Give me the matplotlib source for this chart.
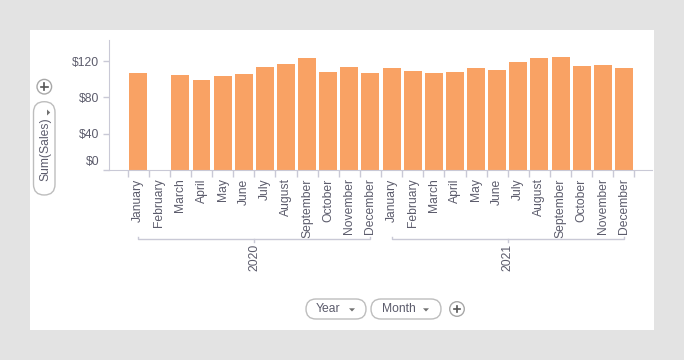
import numpy as np
import matplotlib.pyplot as plt
from matplotlib.patches import FancyBboxPatch, Circle, Rectangle, Polygon
from matplotlib.transforms import blended_transform_factory, ScaledTranslation

plt.rcParams['font.family'] = ['Liberation Sans', 'DejaVu Sans']

# data
months = ['January', 'February', 'March', 'April', 'May', 'June', 'July',
          'August', 'September', 'October', 'November', 'December']
years = ['2020', '2021']
sales_2020 = [107, np.nan, 104.7, 99.2, 103.6, 105.8, 113.6, 116.9, 123.5, 108, 113.6, 107]
sales_2021 = [112.5, 109, 107, 108, 112.5, 110, 119, 123.5, 124.6, 114.7, 115.8, 112.5]
y_ticks = [0, 40, 80, 120]

text_col = '#5c5c6c'
line_col = '#c9c9d6'
bar_col = '#f9a264'
pill_col = '#bdbdbd'

W, H = 684, 360
fig = plt.figure(figsize=(W / 100, H / 100), dpi=100)
fig.patch.set_facecolor('#e3e3e3')

# pixel overlay for panel and widgets
bg = fig.add_axes([0, 0, 1, 1], zorder=0)
bg.set_xlim(0, W)
bg.set_ylim(H, 0)
bg.axis('off')
bg.add_patch(Rectangle((30, 30), 624, 300, color='white', lw=0))


def px(l, t, r, b):
    return [l / W, 1 - b / H, (r - l) / W, (b - t) / H]


ax = fig.add_axes(px(109, 40, 652, 170), zorder=1)
ax.patch.set_alpha(0)

values = sales_2020 + sales_2021
labels = months * len(years)
x = np.arange(len(values))
ax.bar(x, values, width=0.85, color=bar_col)
ax.set_xlim(-1.38, 24.33)
ax.set_ylim(0, 143.3)

ax.set_yticks(y_ticks, [f'${v}' for v in y_ticks])
ax.set_xticks(x, labels, rotation=90)
ax.set_xticks(np.arange(-0.5, len(values)), minor=True)
ax.tick_params(axis='x', which='major', length=0, pad=6, labelsize=8.7, labelcolor=text_col)
ax.tick_params(axis='x', which='minor', length=5, color=line_col, width=1)
ax.tick_params(axis='y', length=4, color=line_col, width=1, pad=3, labelsize=8.7, labelcolor=text_col)
for s in ['top', 'right']:
    ax.spines[s].set_visible(False)
for s in ['left', 'bottom']:
    ax.spines[s].set_color(line_col)

# lift the $0 label off the baseline like the original
lab0 = ax.get_yticklabels()[0]
lab0.set_transform(lab0.get_transform() + ScaledTranslation(0, 0.093, fig.dpi_scale_trans))

# year brackets
trans = blended_transform_factory(ax.transData, ax.transAxes)


def fy(ypix):
    return (170 - ypix) / 130


for k, yr in enumerate(years):
    x0, x1 = k * 12, k * 12 + 11
    ax.plot([x0, x0, x1, x1], [fy(236.5), fy(239), fy(239), fy(236.5)],
            transform=trans, clip_on=False, color=line_col, lw=1)
    xm = (x0 + x1) / 2
    ax.plot([xm, xm], [fy(239), fy(241.5)], transform=trans, clip_on=False,
            color=line_col, lw=1)
    ax.text(xm, fy(244), yr, rotation=90, ha='center', va='top', transform=trans,
            fontsize=8.7, color=text_col)


# widgets
def pill(x0, y0, w, h):
    bg.add_patch(FancyBboxPatch((x0, y0), w, h,
                                boxstyle=f'round,pad=0,rounding_size={min(w, h) / 2}',
                                fc='white', ec=pill_col, lw=1))


def plus(cx, cy):
    bg.add_patch(Circle((cx, cy), 7.3, fc='white', ec='#a8a8a8', lw=1))
    bg.plot([cx - 3.3, cx + 3.3], [cy, cy], color='#555555', lw=1.2)
    bg.plot([cx, cx], [cy - 3.3, cy + 3.3], color='#555555', lw=1.2)


pill(306, 299, 60, 20)
bg.text(328, 309.5, 'Year', ha='center', va='center', fontsize=8.7, color=text_col)
bg.add_patch(Polygon([(349, 308.3), (355, 308.3), (352, 311.5)], color='#707070', lw=0))

pill(371, 299, 70, 20)
bg.text(399, 309.5, 'Month', ha='center', va='center', fontsize=8.7, color=text_col)
bg.add_patch(Polygon([(423, 308.3), (429, 308.3), (426, 311.5)], color='#707070', lw=0))

plus(457, 309)

plus(44.3, 86.7)
pill(33.5, 101.7, 21.5, 93.3)
bg.add_patch(Polygon([(47, 109.5), (47, 115.5), (50.2, 112.5)], color='#707070', lw=0))
bg.text(45, 149, 'Sum(Sales)', rotation=90, ha='center', va='center', fontsize=8.7, color=text_col)

fig.savefig('out.png', dpi=100, facecolor=fig.get_facecolor())
